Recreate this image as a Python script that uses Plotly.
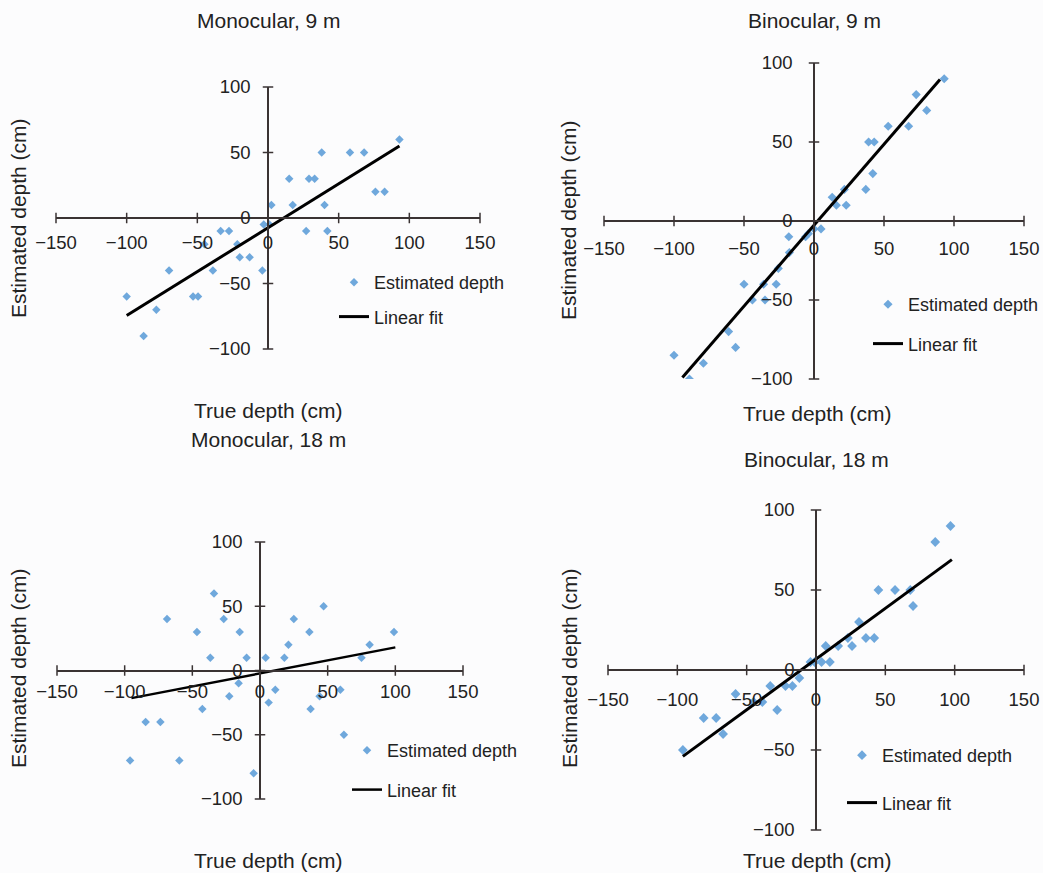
import plotly.graph_objects as go

W, H = 1043, 873

# ---------------- data ----------------
titles = ["Monocular, 9 m", "Binocular, 9 m", "Monocular, 18 m", "Binocular, 18 m"]
x_title = "True depth (cm)"
y_title = "Estimated depth (cm)"
legend_names = ["Estimated depth", "Linear fit"]

x_ticks = [-150, -100, -50, 0, 50, 100, 150]
y_ticks = [-100, -50, 0, 50, 100]

mono9_x = [-100, -88, -79, -70, -53, -49.5, -45, -39, -33.5, -27.6, -21.7, -20, -13, -4, -3, 1, 2.4,
           15, 17.5, 27, 29, 33, 38, 40, 42, 58, 68, 76, 82.5, 93]
mono9_y = [-60, -90, -70, -40, -60, -60, -20, -40, -10, -10, -20, -30, -30, -40, -5, -5, 10,
           30, 10, -10, 30, 30, 50, 10, -10, 50, 50, 20, 20, 60]
mono9_fit_x = [-100, 93]
mono9_fit_y = [-74.5, 55]

bino9_x = [-100, -89, -79, -61, -56, -50, -44, -36, -35, -27, -25.5, -17.6, -18, -6, -4, 0, 5,
           13, 16, 21.7, 23, 37, 39, 43, 42, 53, 67.6, 73, 80.5, 93]
bino9_y = [-85, -100, -90, -70, -80, -40, -50, -40, -50, -40, -30, -20, -10, -10, -8, -5, -5,
           15, 10, 20, 10, 20, 50, 50, 30, 60, 60, 80, 70, 90]
bino9_fit_x = [-94, 90]
bino9_fit_y = [-99, 89.6]

mono18_x = [-96, -84.5, -73.6, -68.7, -59.6, -46.6, -42.6, -36.7, -34, -26.8, -22.7, -15.8, -15,
            -9.9, -4.7, 4.2, 6.4, 11.3, 18, 21, 25, 36.5, 37.4, 44, 47, 59.4, 62, 75, 81, 99]
mono18_y = [-70, -40, -40, 40, -70, 30, -30, 10, 60, 40, -20, -10, 30,
            10, -80, 10, -25, -15, 10, 20, 40, 30, -30, -20, 50, -15, -50, 10, 20, 30]
mono18_fit_x = [-95, 100]
mono18_fit_y = [-21.5, 18]

bino18_x = [-96, -81, -72, -67, -58, -45, -38.7, -33, -28, -22, -17, -12, -4, -1, 4, 7, 10,
            16, 23, 26, 31, 36, 42, 45, 57, 68, 70, 86, 97]
bino18_y = [-50, -30, -30, -40, -15, -20, -20, -10, -25, -10, -10, -5, 5, 5, 5, 15, 5,
            15, 20, 15, 30, 20, 20, 50, 50, 50, 40, 80, 90]
bino18_fit_x = [-96, 98]
bino18_fit_y = [-54, 69]

# ---------------- layout helpers ----------------
FONT = "Liberation Sans, Arial, Helvetica, sans-serif"
TXT = "#222222"
AXC = "#3a3333"
MARK = "#6fa8dc"

# pixel boxes: (x_left, x_right, y_top, y_bottom) of the data range
boxes = [(56, 480, 87, 349), (604, 1024, 63, 379), (57, 463, 542, 799), (608, 1024, 510, 830)]
series = [(mono9_x, mono9_y, mono9_fit_x, mono9_fit_y),
          (bino9_x, bino9_y, bino9_fit_x, bino9_fit_y),
          (mono18_x, mono18_y, mono18_fit_x, mono18_fit_y),
          (bino18_x, bino18_y, bino18_fit_x, bino18_fit_y)]
msizes = [6.5, 7, 6.5, 7.5]
lwidths = [3, 3, 2.5, 3]
title_pos = [(269, 20), (814, 20), (268, 439), (816, 459)]
xt_pos = [(268, 410), (817, 413), (268, 860), (817, 860)]
yt_pos = [(18, 218), (568, 220), (18, 668), (569, 668)]
# legend: (text_x, first_item_y, item spacing)
leg_pos = [(373, 283, 35), (907, 305, 40), (386, 751, 40), (881, 756, 48)]
xlab_standoff = [3, 6, 0, 8]
ylab_standoff = [8, 12, 8, 12]


def fx(px):
    return px / W


def fy(py):
    return 1 - py / H


fig = go.Figure()
layout = {}
annotations = []

for i in range(4):
    n = i + 1
    xl, xr, yt, yb = boxes[i]
    sx, sy, fxs, fys = series[i]
    xa = "x" if n == 1 else f"x{n}"
    ya = "y" if n == 1 else f"y{n}"
    lg = "legend" if n == 1 else f"legend{n}"
    xpos = fy((yt + yb) / 2)   # paper y of data y=0
    ypos = fx((xl + xr) / 2)   # paper x of data x=0

    # crossing tick marks on the axes that pass through the origin
    fig.add_trace(go.Scatter(x=x_ticks, y=[0] * len(x_ticks), mode="markers",
                             marker=dict(symbol="line-ns", size=7.5,
                                         line=dict(color=AXC, width=1.5)),
                             xaxis=xa, yaxis=ya, showlegend=False, hoverinfo="skip",
                             cliponaxis=False))
    fig.add_trace(go.Scatter(x=[0] * len(y_ticks), y=y_ticks, mode="markers",
                             marker=dict(symbol="line-ew", size=7.5,
                                         line=dict(color=AXC, width=1.5)),
                             xaxis=xa, yaxis=ya, showlegend=False, hoverinfo="skip",
                             cliponaxis=False))

    fig.add_trace(go.Scatter(x=sx, y=sy, mode="markers", name=legend_names[0],
                             marker=dict(symbol="diamond", size=msizes[i], color=MARK),
                             xaxis=xa, yaxis=ya, legend=lg, legendgroup=f"m{n}"))
    fig.add_trace(go.Scatter(x=fxs, y=fys, mode="lines", name=legend_names[1],
                             line=dict(color="black", width=lwidths[i]),
                             xaxis=xa, yaxis=ya, legend=lg, legendgroup=f"l{n}"))

    layout[f"xaxis{n if n > 1 else ''}"] = dict(
        range=[-150, 150], tickmode="array", tickvals=x_ticks,
        showgrid=False, zeroline=False, fixedrange=True,
        domain=[fx(xl), fx(xr)], anchor="free", position=xpos,
        showline=True, linecolor=AXC, linewidth=1.5,
        ticks="outside", ticklen=5, tickwidth=1, tickcolor="rgba(0,0,0,0)",
        showticklabels=True, ticklabelstandoff=xlab_standoff[i],
        tickfont=dict(family=FONT, size=18.5, color=TXT))
    layout[f"yaxis{n if n > 1 else ''}"] = dict(
        range=[-100, 100], tickmode="array", tickvals=y_ticks,
        showgrid=False, zeroline=False, fixedrange=True,
        domain=[fy(yb), fy(yt)], anchor="free", position=ypos,
        showline=True, linecolor=AXC, linewidth=1.5,
        ticks="outside", ticklen=5, tickwidth=1, tickcolor="rgba(0,0,0,0)",
        showticklabels=True, ticklabelstandoff=ylab_standoff[i],
        tickfont=dict(family=FONT, size=18.5, color=TXT))

    tx, ty, sp = leg_pos[i]
    layout[lg] = dict(x=fx(tx - 39), y=fy(ty - 19), xanchor="left", yanchor="top",
                      bgcolor="rgba(0,0,0,0)", font=dict(family=FONT, size=18, color=TXT),
                      tracegroupgap=max(0, sp - 27), itemwidth=30, itemsizing="trace")

    annotations.append(dict(text=titles[i], x=fx(title_pos[i][0]), y=fy(title_pos[i][1]),
                            xref="paper", yref="paper", xanchor="center", yanchor="middle",
                            showarrow=False, font=dict(family=FONT, size=21, color=TXT)))
    annotations.append(dict(text=x_title, x=fx(xt_pos[i][0]), y=fy(xt_pos[i][1]),
                            xref="paper", yref="paper", xanchor="center", yanchor="middle",
                            showarrow=False, font=dict(family=FONT, size=21, color=TXT)))
    annotations.append(dict(text=y_title, x=fx(yt_pos[i][0]), y=fy(yt_pos[i][1]),
                            xref="paper", yref="paper", xanchor="center", yanchor="middle",
                            textangle=-90, showarrow=False,
                            font=dict(family=FONT, size=21, color=TXT)))

fig.update_layout(**layout)
fig.update_layout(width=W, height=H,
                  margin=dict(l=0, r=0, t=0, b=0, pad=0, autoexpand=False),
                  paper_bgcolor="#fcfcfd", plot_bgcolor="rgba(0,0,0,0)",
                  annotations=annotations, hovermode=False,
                  font=dict(family=FONT, color=TXT))

fig.write_html("out.html", config={"displayModeBar": False})
